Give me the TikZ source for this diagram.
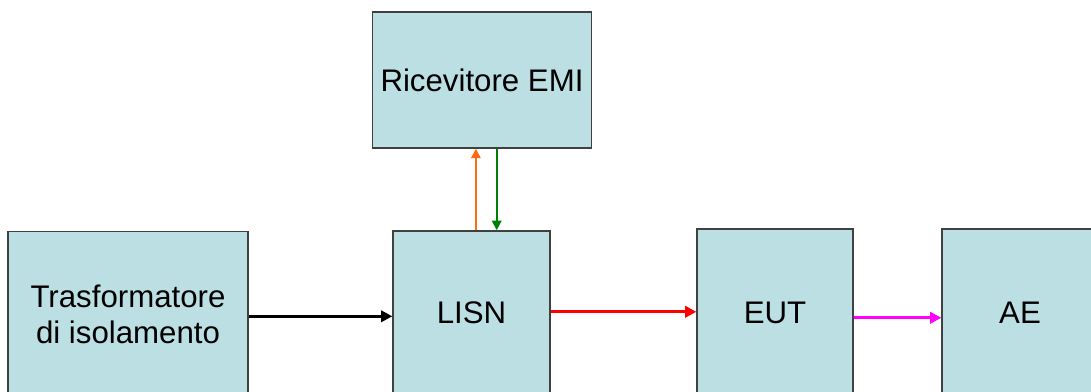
\documentclass[tikz,border=0pt]{standalone}
\usepackage{fontspec}
\setmainfont{Liberation Sans}
\usepackage{tikz}
\usetikzlibrary{arrows.meta}

\definecolor{bloccoazzurro}{HTML}{BBDFE3}
\definecolor{bordogrigio}{HTML}{404040}
\definecolor{arancio}{HTML}{FF6A10}
\definecolor{verdescuro}{HTML}{008000}
\definecolor{rosso}{HTML}{FF0000}
\definecolor{fucsia}{HTML}{FF00FF}

\tikzset{
  blocco/.style={draw=bordogrigio, line width=0.9pt, fill=bloccoazzurro, align=center,
    inner sep=0pt, font=\fontsize{22.2}{25.5}\selectfont},
  freccia/.style={-{Triangle[length=2.8mm,width=2.8mm]}, line width=2.2pt},
  frecciav/.style={-{Triangle[length=2.4mm,width=2.3mm]}, line width=1.7pt}
}

\begin{document}
\begin{tikzpicture}[x=0.025cm, y=0.025cm]
		\useasboundingbox (0,0) rectangle (1091,392);
		\clip (0,0) rectangle (1091,392);
		% Blocchi del banco di misura
		\node[blocco, minimum width=5.475cm, minimum height=3.4cm] (ricevitore) at (482,312) {Ricevitore EMI};
		\node[blocco, minimum width=6cm, minimum height=4.15cm] (trasf) at (128,77.3) {Trasformatore\\di isolamento};
		\node[blocco, minimum width=3.925cm, minimum height=4.1cm] (lisn) at (471.5,79) {LISN};
		\node[blocco, minimum width=3.9cm, minimum height=4.2cm] (eut) at (775,79) {EUT};
		\node[blocco, minimum width=3.9cm, minimum height=4.2cm] (ae) at (1020,79) {AE};
		% Collegamenti di alimentazione
		\draw[freccia, line width=1.9pt, black] ([yshift=-0.04cm]trasf.east) -- ([yshift=-0.04cm]lisn.west |- trasf.east);
		\draw[freccia, rosso] ([yshift=0.03cm]lisn.east) -- ([yshift=0.03cm]eut.west |- lisn.east);
		\draw[freccia, fucsia] ([yshift=-0.12cm]eut.east) -- ([yshift=-0.12cm]ae.west |- eut.east);
		% Segnale verso il ricevitore e ritorno
		\draw[frecciav, arancio] ([xshift=0.11cm]lisn.north) -- ([xshift=0.11cm]lisn.north |- ricevitore.south);
		\draw[frecciav, verdescuro] ([xshift=0.63cm]lisn.north |- ricevitore.south) -- ([xshift=0.63cm]lisn.north);
	\end{tikzpicture}
\end{document}
